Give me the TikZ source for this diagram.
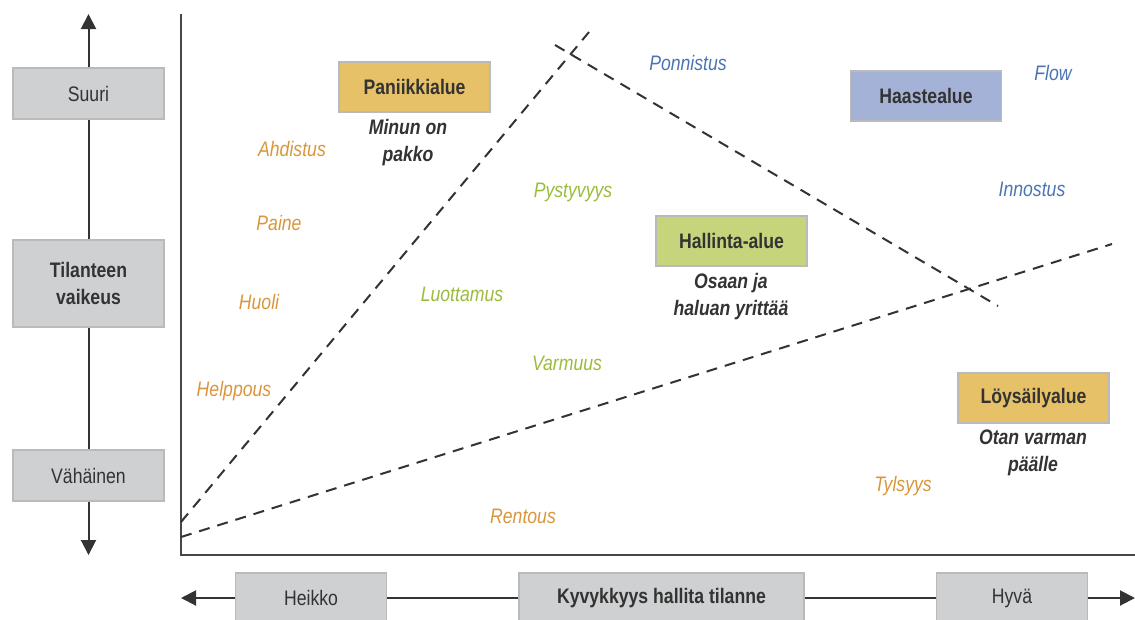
\documentclass[tikz,border=0pt]{standalone}
\usepackage{fontspec}
\setmainfont{Liberation Sans}[FakeStretch=0.84]
\usetikzlibrary{arrows.meta}

\definecolor{boxgray}{HTML}{CFD0D2}
\definecolor{boxedge}{HTML}{B9BABC}
\definecolor{ink}{HTML}{333333}
\definecolor{panicfill}{HTML}{E6C167}
\definecolor{challfill}{HTML}{A5B2D7}
\definecolor{ctrlfill}{HTML}{C6D57B}
\definecolor{orangetxt}{HTML}{D9963A}
\definecolor{greentxt}{HTML}{9BBB3C}
\definecolor{bluetxt}{HTML}{4A74B4}

\tikzset{
  lab/.style={font=\fontsize{21}{24}\selectfont, text=ink, inner sep=0pt},
  graybox/.style={lab, draw=boxedge, fill=boxgray, line width=1.2pt,
    minimum width=151pt},
  zonebox/.style={lab, draw=boxedge, line width=1.2pt, font=\fontsize{21}{24}\selectfont\bfseries,
    minimum width=151pt, minimum height=50pt},
  motto/.style={lab, font=\fontsize{21}{27}\selectfont\bfseries\itshape, align=center},
  feel/.style={inner sep=0pt, font=\fontsize{21}{24}\selectfont\itshape},
  axis/.style={draw=ink, line width=2pt},
  axarrow/.style={axis, -{Triangle[length=15pt,width=15pt]}},
  border/.style={draw=ink!90, line width=2.2pt},
  zoneline/.style={draw=ink, line width=2pt, dash pattern=on 11pt off 8pt},
}

\begin{document}
\begin{tikzpicture}[x=1pt,y=-1pt]
\useasboundingbox (0,0) rectangle (1135,619);

% vertical scale: difficulty of the situation
\node[graybox, minimum height=51pt] (suuri) at (88.5,93.5) {Suuri};
\node[graybox, minimum height=87pt, align=center, font=\fontsize{21}{27}\selectfont\bfseries] (tv) at (88.5,283.5) {Tilanteen\\vaikeus};
\node[graybox, minimum height=51pt] (vah) at (88.5,475.5) {Vähäinen};
\coordinate (vtop) at (88.5,14);
\coordinate (vbot) at (88.5,555);
\draw[axarrow] (suuri.north) -- (vtop);
\draw[axis] (tv.north) -- (suuri.south);
\draw[axis] (vah.north) -- (tv.south);
\draw[axarrow] (vah.south) -- (vbot);

% horizontal scale: ability to master the situation
\node[graybox, minimum height=50pt] (heikko) at (311,598) {Heikko};
\node[graybox, minimum height=50pt, minimum width=285pt, font=\fontsize{21}{24}\selectfont\bfseries] (kyv) at (661.5,598) {Kyvykkyys hallita tilanne};
\node[graybox, minimum height=50pt] (hyva) at (1012,598) {Hyvä};
\coordinate (hleft) at (181,598);
\coordinate (hright) at (1135,598);
\draw[axarrow] (heikko.west) -- (hleft);
\draw[axis] (heikko.east) -- (kyv.west);
\draw[axis] (kyv.east) -- (hyva.west);
\draw[axarrow] (hyva.east) -- (hright);

% chart frame
\coordinate (origin) at (181,555);
\coordinate (ytop) at (181,14);
\coordinate (xend) at (1135,555);
\draw[border] (ytop) -- (origin) -- (xend);

% zone boundaries
\coordinate (a1) at (181,522);
\coordinate (a2) at (589,32);
\coordinate (b1) at (181,537);
\coordinate (b2) at (1112,244);
\coordinate (c1) at (555,45);
\coordinate (c2) at (998,306);
\draw[zoneline] (a1) -- (a2);
\draw[zoneline] (b1) -- (b2);
\draw[zoneline] (c1) -- (c2);

% zones
\node[zonebox, fill=panicfill] (panic) at (414.5,87) {Paniikkialue};
\node[motto] (panicm) at (408,143) {Minun on\\pakko};
\node[zonebox, fill=challfill] (chall) at (926,96) {Haastealue};
\node[zonebox, fill=ctrlfill] (ctrl) at (731.5,241) {Hallinta-alue};
\node[motto] (ctrlm) at (731,297) {Osaan ja\\haluan yrittää};
\node[zonebox, fill=panicfill] (loose) at (1033.5,398) {Löysäilyalue};
\node[motto] (loosem) at (1033,453) {Otan varman\\päälle};

% feelings
\node[feel, text=orangetxt] (f1) at (292,149) {Ahdistus};
\node[feel, text=orangetxt] (f2) at (279,223) {Paine};
\node[feel, text=orangetxt] (f3) at (259,302) {Huoli};
\node[feel, text=orangetxt] (f4) at (234,391) {Helppous};
\node[feel, text=orangetxt] (f5) at (523,516) {Rentous};
\node[feel, text=orangetxt] (f6) at (903,486) {Tylsyys};
\node[feel, text=greentxt] (f7) at (573,192) {Pystyvyys};
\node[feel, text=greentxt] (f8) at (462,294) {Luottamus};
\node[feel, text=greentxt] (f9) at (567,363) {Varmuus};
\node[feel, text=bluetxt] (f10) at (688,63) {Ponnistus};
\node[feel, text=bluetxt] (f11) at (1053,73) {Flow};
\node[feel, text=bluetxt] (f12) at (1032,189) {Innostus};
\end{tikzpicture}
\end{document}
